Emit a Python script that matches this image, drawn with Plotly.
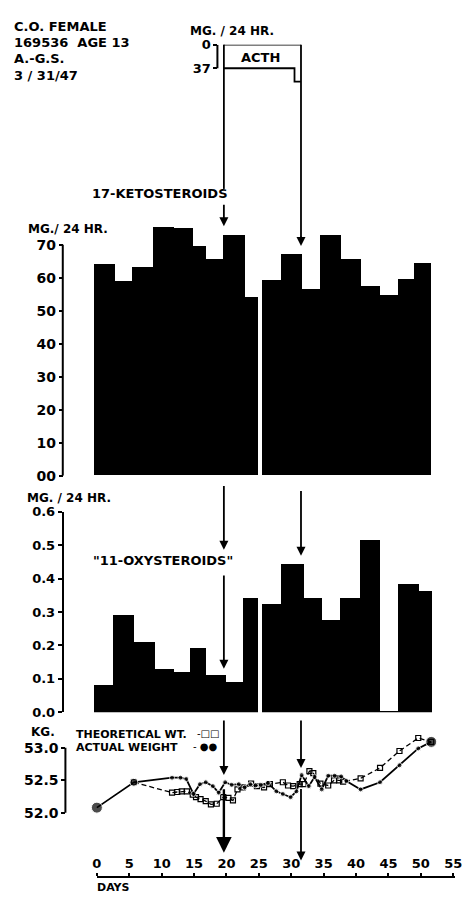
import plotly.graph_objects as go

W, H = 468, 900

# ---------------- data ----------------
# 17-ketosteroids, mg / 24 hr, per collection period (days)
keto_start = [-0.5, 2.8, 5.4, 8.6, 11.9, 14.8, 16.8, 19.4, 22.8, 25.5, 28.4, 31.7, 34.4, 37.6, 40.7, 43.7, 46.5, 49.0]
keto_end = [2.8, 5.4, 8.6, 11.9, 14.8, 16.8, 19.4, 22.8, 24.8, 28.4, 31.7, 34.4, 37.6, 40.7, 43.7, 46.5, 49.0, 51.6]
keto_mg = [63.9, 58.9, 63.1, 75.2, 74.8, 69.5, 65.7, 72.7, 53.9, 59.3, 67.2, 56.5, 72.7, 65.7, 57.4, 54.6, 59.5, 64.2]

# "11-oxysteroids", mg / 24 hr
oxy_start = [-0.5, 2.5, 5.7, 8.9, 11.9, 14.4, 16.8, 19.9, 22.5, 25.5, 28.4, 31.9, 34.8, 37.5, 40.6, 43.7, 46.5, 49.7]
oxy_end = [2.5, 5.7, 8.9, 11.9, 14.4, 16.8, 19.9, 22.5, 24.8, 28.4, 31.9, 34.8, 37.5, 40.6, 43.7, 46.5, 49.7, 51.7]
oxy_mg = [0.082, 0.291, 0.211, 0.131, 0.120, 0.192, 0.113, 0.092, 0.343, 0.325, 0.445, 0.343, 0.278, 0.343, 0.515, 0.004, 0.384, 0.363]

# weights, kg
actual_day = [0, 5.7, 11.6, 12.9, 13.8, 14.9, 15.9, 16.8, 17.9, 18.8, 19.8, 20.8, 21.9, 22.8, 23.7, 24.5, 25.3,
              26.4, 27.7, 28.7, 29.9, 30.8, 31.6, 32.7, 33.6, 34.7, 35.7, 36.7, 37.7, 38.5, 40.7, 43.7, 46.7, 49.6, 51.6]
actual_kg = [52.08, 52.47, 52.54, 52.54, 52.52, 52.29, 52.44, 52.47, 52.41, 52.31, 52.47, 52.43, 52.44, 52.39, 52.44, 52.42, 52.43,
             52.46, 52.33, 52.29, 52.24, 52.33, 52.58, 52.41, 52.55, 52.36, 52.57, 52.57, 52.56, 52.49, 52.36, 52.47, 52.73, 52.99, 53.09]
theo_day = [5.7, 11.6, 12.4, 13.1, 13.9, 14.8, 15.3, 16.0, 16.8, 17.6, 18.5, 19.5, 20.3, 21.0, 21.7, 22.5, 23.8, 24.7,
            25.8, 26.7, 28.7, 29.5, 30.3, 31.3, 31.9, 32.8, 33.4, 34.5, 35.7, 36.6, 37.4, 38.0, 40.7, 43.7, 46.7, 49.6, 51.6]
theo_kg = [52.47, 52.31, 52.32, 52.33, 52.33, 52.28, 52.24, 52.21, 52.18, 52.13, 52.14, 52.24, 52.23, 52.19, 52.36, 52.39, 52.45, 52.41,
           52.39, 52.44, 52.47, 52.42, 52.41, 52.44, 52.44, 52.64, 52.61, 52.45, 52.42, 52.50, 52.50, 52.48, 52.53, 52.69, 52.95, 53.15, 53.09]

# ACTH administration (days) and dose outline (mg / 24 hr)
acth_start, acth_taper, acth_end = 19.6, 30.5, 31.5
acth_dose = 37
acth_box_x = [acth_start, acth_end, None, acth_start, acth_taper, acth_taper, acth_end]
acth_box_y = [0, 0, None, acth_dose, acth_dose, 58, 58]

keto_ticks = [0, 10, 20, 30, 40, 50, 60, 70]
keto_ticktext = ["00", "10", "20", "30", "40", "50", "60", "70"]
oxy_ticks = [0, 0.1, 0.2, 0.3, 0.4, 0.5, 0.6]
oxy_ticktext = ["0.0", "0.1", "0.2", "0.3", "0.4", "0.5", "0.6"]
wt_ticks = [52.0, 52.5, 53.0]
wt_ticktext = ["52.0", "52.5", "53.0"]
day_ticks = [0, 5, 10, 15, 20, 25, 30, 35, 40, 45, 50, 55]

# ---------------- geometry helpers ----------------
PX0, PXD = 94.3, 6.65  # pixel of day 0, pixels per day
XMIN, XMAX = -PX0 / PXD, (W - PX0) / PXD


def py(y):
    return 1 - y / H


def px(x):
    return x / W


FONT = "DejaVu Sans"

fig = go.Figure()

# 17-ketosteroid bars
fig.add_trace(go.Bar(
    x=[(s + e) / 2 for s, e in zip(keto_start, keto_end)],
    width=[e - s for s, e in zip(keto_start, keto_end)],
    y=keto_mg, base=0, marker=dict(color="black", line=dict(width=0)),
    xaxis="x", yaxis="y", showlegend=False, hoverinfo="skip"))

# 11-oxysteroid bars
fig.add_trace(go.Bar(
    x=[(s + e) / 2 for s, e in zip(oxy_start, oxy_end)],
    width=[e - s for s, e in zip(oxy_start, oxy_end)],
    y=oxy_mg, base=0, marker=dict(color="black", line=dict(width=0)),
    xaxis="x", yaxis="y2", showlegend=False, hoverinfo="skip"))

# Theoretical weight
fig.add_trace(go.Scatter(
    x=theo_day, y=theo_kg, mode="lines+markers", xaxis="x", yaxis="y3",
    line=dict(color="black", width=1.3, dash="5px,3px"),
    marker=dict(symbol="square-open", size=5, color="black", line=dict(width=1.2)),
    cliponaxis=False, showlegend=False, hoverinfo="skip"))

# Actual weight
sizes = [11, 8] + [5] * (len(actual_day) - 3) + [11]
fig.add_trace(go.Scatter(
    x=actual_day, y=actual_kg, mode="lines+markers", xaxis="x", yaxis="y3",
    line=dict(color="black", width=1.8),
    marker=dict(symbol="circle", size=sizes, color="black"),
    cliponaxis=False, showlegend=False, hoverinfo="skip"))

# ACTH dose outline
fig.add_trace(go.Scatter(
    x=acth_box_x, y=acth_box_y, mode="lines", xaxis="x", yaxis="y5",
    line=dict(color="black", width=1.8), cliponaxis=False,
    showlegend=False, hoverinfo="skip"))

# dummy trace for the days axis
fig.add_trace(go.Scatter(x=[0], y=[0], xaxis="x2", yaxis="y4", mode="markers",
                         marker=dict(opacity=0), showlegend=False, hoverinfo="skip"))

# ---------------- axes ----------------
keto_top = (476.6 - 220) / 3.356
dose_bottom = 60
dose_px = 24 / acth_dose

axis_common = dict(showgrid=False, zeroline=False, color="black",
                   ticks="outside", ticklen=4, tickwidth=2, tickcolor="black")

fig.update_layout(
    width=W, height=H, margin=dict(l=0, r=0, t=0, b=0),
    paper_bgcolor="white", plot_bgcolor="rgba(0,0,0,0)",
    font=dict(family=FONT, color="black"),
    bargap=0,
    xaxis=dict(domain=[0, 1], range=[XMIN, XMAX], visible=False, anchor="y"),
    xaxis2=dict(domain=[px(PX0), px(462)], range=[0, (462 - PX0) / PXD], anchor="y4", side="top",
                showline=True, linewidth=2, linecolor="black", showgrid=False, zeroline=False,
                ticks="outside", ticklen=3, tickwidth=2, tickcolor="black", ticklabeloverflow="allow",
                tickvals=day_ticks, tickfont=dict(size=13, weight="bold")),
    yaxis=dict(domain=[py(476.6), py(220)], range=[0, keto_top], anchor="free", position=px(59.3),
               tickvals=keto_ticks, ticktext=keto_ticktext, tickfont=dict(size=14, weight="bold"),
               showline=False, **axis_common),
    yaxis2=dict(domain=[py(717.3), py(513.3)], range=[0, 0.6], anchor="free", position=px(59.3),
                tickvals=oxy_ticks, ticktext=oxy_ticktext, tickfont=dict(size=13, weight="bold"),
                showline=True, linewidth=2, linecolor="black", **axis_common),
    yaxis3=dict(domain=[py(819.5 + 0.1 * 66.2), py(753.3 - 0.25 * 66.2)], range=[51.9, 53.25],
                anchor="free", position=px(62),
                tickvals=wt_ticks, ticktext=wt_ticktext, tickfont=dict(size=14, weight="bold"),
                showline=False, **axis_common),
    yaxis4=dict(domain=[0, py(886)], range=[0, 1], visible=False),
    yaxis5=dict(domain=[py(38.3 + dose_bottom * dose_px), py(38.3)], range=[dose_bottom, 0],
                anchor="free", position=px(218), tickvals=[0, acth_dose], ticktext=["0", "37"],
                tickfont=dict(size=13, weight="bold"), showline=False, **axis_common),
)

shapes = []
# y-axis lines spanning only the labelled range
shapes.append(dict(type="line", xref="paper", yref="y", x0=px(59.3), x1=px(59.3), y0=0, y1=70,
                   line=dict(color="black", width=2)))
shapes.append(dict(type="line", xref="paper", yref="y3", x0=px(62), x1=px(62), y0=52.0, y1=53.0,
                   line=dict(color="black", width=2)))
shapes.append(dict(type="line", xref="paper", yref="y5", x0=px(218), x1=px(218), y0=0, y1=acth_dose,
                   line=dict(color="black", width=2)))


def vline(day, y0, y1, w=1.8):
    shapes.append(dict(type="line", xref="x", yref="paper", x0=day, x1=day, y0=py(y0), y1=py(y1),
                       line=dict(color="black", width=w)))


vline(acth_start, 38.3, 185)
vline(acth_end, 38.3, 236)

annotations = []


def arrow(day, y_tail, y_head, size=1.0, width=1.8):
    annotations.append(dict(x=day, y=py(y_head), xref="x", yref="paper", ax=0, ay=-(y_head - y_tail),
                            axref="pixel", ayref="pixel", text="", showarrow=True, arrowhead=2,
                            arrowsize=size, arrowwidth=width, arrowcolor="black", standoff=0))


arrow(acth_start, 200, 223)
arrow(acth_end, 232, 243)
arrow(acth_start, 486.7, 552)
arrow(acth_start, 578.3, 673)
arrow(acth_end, 491.7, 558)
arrow(acth_start, 725, 781)
arrow(acth_end, 725, 774)
arrow(acth_start, 795, 860, size=1.3, width=2.4)
arrow(acth_end, 795, 868)


def label(text, x, y, size=14, anchor="left", weight="normal"):
    annotations.append(dict(text=text, x=px(x), y=py(y), xref="paper", yref="paper",
                            xanchor=anchor, yanchor="middle", showarrow=False, borderpad=0,
                            font=dict(size=size, family=FONT, color="black", weight=weight)))


label("C.O. FEMALE", 8, 20, 13, weight="bold")
label("169536  AGE 13", 8, 36, 13, weight="bold")
label("A.-G.S.", 8, 52, 13, weight="bold")
label("3 / 31/47", 8, 70, 13, weight="bold")
label("MG. / 24 HR.", 233, 24, 12, anchor="center", weight="bold")
label("ACTH", 262, 51, 13, anchor="center", weight="bold")
label("17-KETOSTEROIDS", 88, 190, 13, weight="bold")
label("MG./ 24 HR.", 23, 226, 12, weight="bold")
label("MG. / 24 HR.", 22, 499, 12, weight="bold")
label("\"11-OXYSTEROIDS\"", 89, 563, 13, weight="bold")
label("KG.", 26, 737, 12, weight="bold")
label("THEORETICAL WT.", 72, 740, 11, weight="bold")
label("ACTUAL WEIGHT", 72, 753, 11, weight="bold")
label("-□□", 196, 739, 10)
label("- ●●", 192, 752, 10)
label("DAYS", 93, 895, 11, weight="bold")

fig.update_layout(shapes=shapes, annotations=annotations)

fig.write_html("out.html", config={"displayModeBar": False},
               post_script="document.body.style.margin='0';document.body.style.overflow='hidden';")
